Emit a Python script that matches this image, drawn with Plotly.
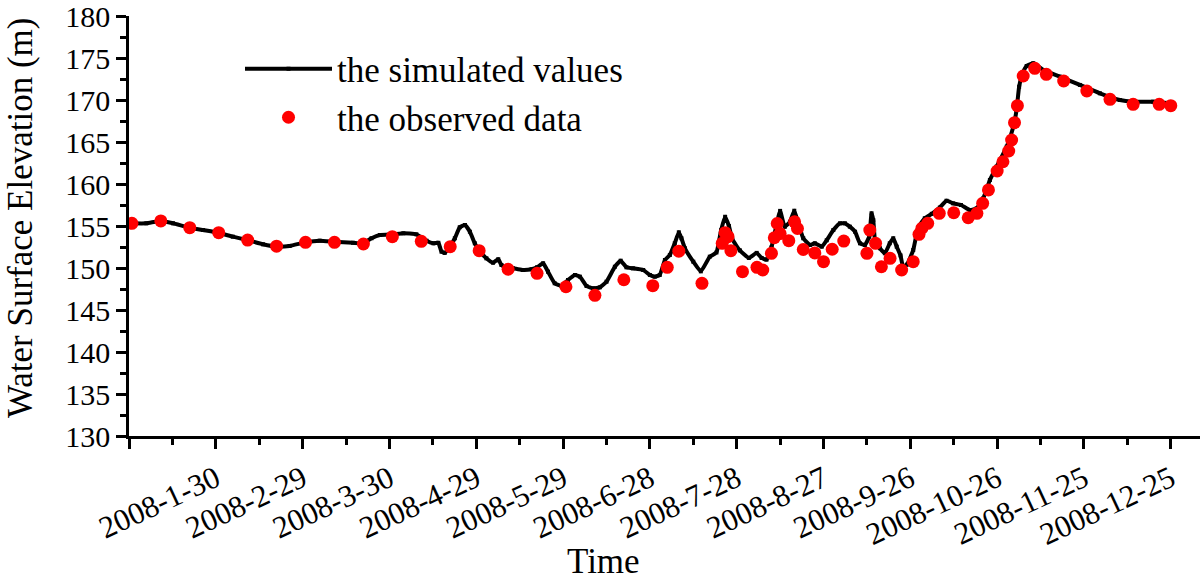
import pandas as pd
import plotly.graph_objects as go

# ---- data (day number counted from 2007-12-31, i.e. day 1 = 2008-01-01) ----
sim_day = [1, 6, 10.9, 15.2, 21, 25.6, 30.8, 35.9, 40.9, 46.3, 51, 55.5, 61, 65.9, 70.9,
           77.4, 80.9, 83.8, 86.7, 91.3, 94.8, 99.3, 102.8, 105.2, 106.9, 108, 109.1, 110.9,
           112.6, 114.3, 116.1, 117.8, 119.5, 120.9, 123.5, 125.8, 127.6, 128.7, 130.8, 132.7,
           136.2, 139.1, 141, 143.1, 144.8, 147.1, 149.5, 151.7, 154.1, 155.8, 158.1, 160.4,
           162.7, 165, 167.9, 169.9, 171.9, 174.2, 177.7, 180, 181.7, 183.4, 185.2, 186.9,
           188.6, 190, 190.9, 192.1, 195, 197.6, 200.7, 203, 204.6, 206, 207.3, 208.5, 211.1,
           214.2, 216.9, 218.6, 220.3, 222, 223.6, 225, 226.6, 228.4, 229.9, 231.3, 233,
           235.3, 237, 239.4, 241.1, 243.4, 245.7, 247.4, 249.1, 250.9, 252.6, 254.3, 255.8,
           256.6, 257.2, 257.8, 259.5, 261.2, 262.9, 264.1, 265.3, 266.6, 267.5, 268.8, 271,
           272.7, 275, 277.4, 280.2, 282.5, 284.8, 287.5, 290.6, 292.9, 295.2, 297.5, 299.8,
           303.3, 305.6, 306.7, 307.6, 308.8, 310.2, 312.5, 316, 321.7, 328.6, 335.5, 342.4,
           347, 353.9, 360.3]
sim_val = [155.32, 155.32, 155.6, 155.32, 154.8, 154.52, 154.2, 153.73, 153.33, 152.82, 152.54,
           152.62, 153.06, 153.25, 153.13, 153.0, 152.94, 153.54, 153.93, 154.01, 154.13, 154.01,
           153.25, 152.94, 153.0, 151.94, 151.8, 152.54, 153.54, 154.85, 155.12, 154.32, 152.94,
           152.14, 151.15, 150.63, 151.04, 150.36, 149.88, 149.96, 149.76, 149.85, 150.08, 150.56,
           149.56, 148.18, 147.86, 148.57, 149.17, 148.97, 147.86, 147.58, 147.7, 148.37, 150.15,
           150.87, 150.08, 149.96, 149.76, 149.17, 148.97, 149.17, 150.95, 151.55, 152.94, 154.25,
           153.54, 152.35, 150.75, 149.6, 151.35, 151.85, 154.5, 156.1, 155.0, 153.4, 152.1,
           151.2, 151.8, 151.2, 151.0, 152.45, 154.9, 156.8, 154.9, 155.5, 156.82, 155.3, 153.54,
           152.74, 152.94, 152.54, 153.3, 154.52, 155.32, 155.32, 154.92, 154.32, 152.94, 152.74,
           153.73, 156.51, 155.71, 153.33, 152.35, 151.75, 152.94, 153.54, 152.54, 151.5, 150.15,
           150.4, 152.14, 154.8, 155.92, 156.45, 157.2, 158.01, 157.7, 157.5, 156.9, 157.1, 158.3,
           160.48, 162.06, 164.44, 166.82, 168.8, 171.58, 173.18, 174.05, 174.37, 173.57, 172.78,
           171.79, 170.8, 170.0, 169.8, 169.8, 169.6]

obs_day = [1, 11, 21, 31, 41, 51, 61, 71, 81, 91, 101, 111, 121, 131, 141, 151, 161, 171, 181,
           186, 190, 198, 205, 206, 207, 208, 212, 217, 219, 222, 223, 224, 225, 228, 230, 231,
           233, 237, 240, 243, 247, 255, 256, 258, 260, 263, 267, 271, 273, 274, 276, 280, 285,
           290, 293, 295, 297, 300, 302, 304, 305, 306, 307, 309, 313, 317, 323, 331, 339, 347,
           356, 360]
obs_val = [155.32, 155.6, 154.8, 154.2, 153.33, 152.6, 153.06, 153.06, 152.86, 153.73, 153.18,
           152.54, 152.06, 149.85, 149.37, 147.77, 146.75, 148.6, 147.9, 150.08, 152.0, 148.18,
           152.94, 154.2, 153.73, 152.06, 149.56, 150.08, 149.76, 151.75, 153.6, 155.3, 154.1,
           153.25, 155.5, 154.7, 152.2, 151.8, 150.75, 152.23, 153.21, 151.75, 154.52, 152.94,
           150.15, 151.15, 149.76, 150.75, 154.01, 154.73, 155.32, 156.51, 156.58, 155.98, 156.51,
           157.7, 159.29, 161.55, 162.65, 163.93, 165.24, 167.3, 169.32, 172.86, 173.77, 173.06,
           172.26, 171.07, 170.08, 169.49, 169.49, 169.32]

tick_day = [0, 30, 60, 90, 120, 150, 180, 210, 240, 270, 300, 330, 360]
tick_text = ["", "2008-1-30", "2008-2-29", "2008-3-30", "2008-4-29", "2008-5-29", "2008-6-28",
             "2008-7-28", "2008-8-27", "2008-9-26", "2008-10-26", "2008-11-25", "2008-12-25"]
y_ticks = [130, 135, 140, 145, 150, 155, 160, 165, 170, 175, 180]

base = pd.Timestamp("2007-12-31")
to_date = lambda days: base + pd.to_timedelta(pd.Series(days, dtype=float), unit="D")

FONT = "Liberation Serif, Times New Roman, serif"
L, T, B = 129, 16, 145
W, H = 1200, 581
PW, PH = W - L, H - T - B

fig = go.Figure()
fig.add_trace(go.Scatter(
    x=to_date(sim_day), y=sim_val, name="the simulated values",
    mode="lines+markers",
    line=dict(color="black", width=4, shape="spline", smoothing=0.4),
    marker=dict(symbol="square", size=4, color="black"),
))
fig.add_trace(go.Scatter(
    x=to_date(obs_day), y=obs_val, name="the observed data",
    mode="markers",
    marker=dict(symbol="circle", size=13, color="#ff0000"),
))

fig.update_layout(
    width=W, height=H,
    margin=dict(l=L, r=0, t=T, b=B, autoexpand=False),
    plot_bgcolor="white", paper_bgcolor="white",
    font=dict(family=FONT, color="black"),
    showlegend=True,
    legend=dict(x=(240 - L) / PW, y=0.944, xanchor="left", yanchor="top",
                bgcolor="rgba(0,0,0,0)", font=dict(size=35, family=FONT),
                itemwidth=87, tracegroupgap=0),
    annotations=[
        dict(text="Time", xref="paper", yref="paper",
             x=(603 - L) / PW, y=(T + PH - 561) / PH, xanchor="center", yanchor="middle",
             showarrow=False, font=dict(size=35, family=FONT)),
        dict(text="Water Surface Elevation (m)", xref="paper", yref="paper",
             x=(21 - L) / PW, y=(T + PH - 218) / PH, xanchor="center", yanchor="middle",
             textangle=-90, showarrow=False, font=dict(size=35, family=FONT)),
    ],
)
fig.update_xaxes(
    type="date", automargin=False,
    range=[base, base + pd.Timedelta(days=370.1)],
    tickvals=to_date(tick_day), ticktext=tick_text,
    tickangle=-25, tickfont=dict(size=31, family=FONT),
    ticks="outside", ticklen=10, tickwidth=2.5, tickcolor="black",
    showline=True, linecolor="black", linewidth=2.5,
    showgrid=False, zeroline=False, ticklabeloverflow="allow",
    minor=dict(ticks="outside", ticklen=6, tickwidth=2.5, tickcolor="black",
               dtick=15 * 86400000, tick0=base, showgrid=False),
)
fig.update_yaxes(
    range=[130, 180], automargin=False,
    tickvals=y_ticks,
    tickfont=dict(size=30, family=FONT),
    ticks="outside", ticklen=10, tickwidth=2.5, tickcolor="black",
    showline=True, linecolor="black", linewidth=2.5,
    showgrid=False, zeroline=False, ticklabeloverflow="allow",
    minor=dict(ticks="outside", ticklen=6, tickwidth=2.5, tickcolor="black",
               dtick=2.5, tick0=130, showgrid=False),
)

fig.write_html("out.html", config={"displayModeBar": False},
               post_script="document.body.style.margin='0';document.body.style.overflow='hidden';")
